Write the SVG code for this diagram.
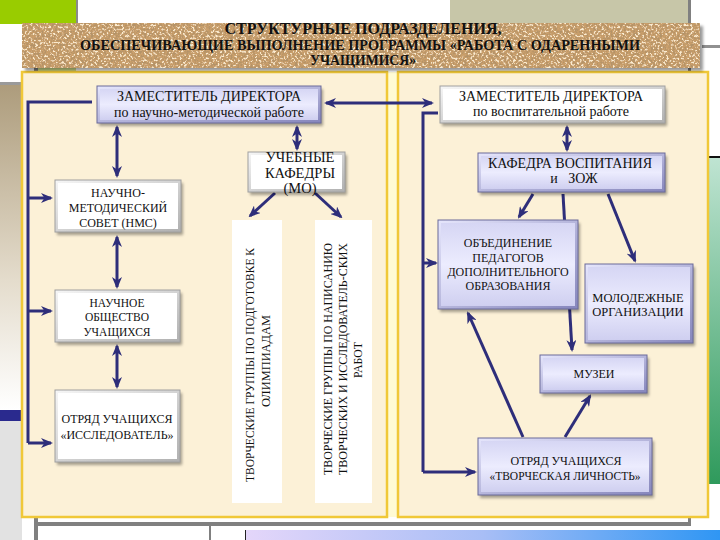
<svg xmlns="http://www.w3.org/2000/svg" width="720" height="540" viewBox="0 0 720 540">
<style>
text{fill:#111;text-anchor:middle}
.t1{font-size:17px;font-weight:bold}
.t2{font-size:14px;font-weight:bold}
.sh{fill:#000;opacity:.35;filter:url(#blur)}
.wo{fill:url(#gW);stroke:#a0a0a0;stroke-width:1}
.wi{fill:#fff}
.lo{fill:url(#gLo);stroke:#6a6a9a;stroke-width:1}
.li{fill:url(#gLi)}
.pl{fill:#fff}
.cn{fill:none;stroke:#2e2e7a;stroke-width:3}
.ar{marker-end:url(#ah)}
.da{marker-start:url(#ah);marker-end:url(#ah)}
.panel{fill:#fcf1d7;stroke:#f0c838;stroke-width:2.5}
</style>
<defs>
<linearGradient id="gW" x1="0" y1="0" x2="1" y2="1"><stop offset="0" stop-color="#f6f6f6"/><stop offset="1" stop-color="#b0b0b0"/></linearGradient>
<linearGradient id="gLo" x1="0" y1="0" x2="1" y2="1"><stop offset="0" stop-color="#e6e6fc"/><stop offset="1" stop-color="#8686bc"/></linearGradient>
<linearGradient id="gLi" x1="0" y1="0" x2="0" y2="1"><stop offset="0" stop-color="#d6d6f4"/><stop offset=".5" stop-color="#ececfe"/><stop offset="1" stop-color="#cfcff0"/></linearGradient>
<linearGradient id="gTan" x1="0" y1="0" x2="0" y2="1"><stop offset="0" stop-color="#ad9c7c"/><stop offset=".6" stop-color="#e4dccc"/><stop offset="1" stop-color="#ffffff"/></linearGradient>
<linearGradient id="gGreen" x1="0" y1="0" x2="0" y2="1"><stop offset="0" stop-color="#bfe4d2"/><stop offset="1" stop-color="#2f9a5c"/></linearGradient>
<linearGradient id="gBot" x1="0" y1="0" x2="1" y2="0"><stop offset="0" stop-color="#e4d6fa"/><stop offset=".5" stop-color="#a8bef6"/><stop offset="1" stop-color="#2f96f4"/></linearGradient>
<filter id="blur" x="-10%" y="-10%" width="120%" height="120%"><feGaussianBlur stdDeviation="1.5"/></filter>
<filter id="cork" x="0" y="0" width="1" height="1">
<feTurbulence type="fractalNoise" baseFrequency="0.45" numOctaves="3" seed="7" result="n"/>
<feColorMatrix in="n" type="matrix" values="0 0 0 0 0.45  0 0 0 0 0.29  0 0 0 0 0.14  6 0 0 0 -3.0" result="d"/>
<feColorMatrix in="n" type="matrix" values="0 0 0 0 0.96  0 0 0 0 0.84  0 0 0 0 0.64  -6 0 0 0 2.7" result="l"/>
<feMerge result="m"><feMergeNode in="d"/><feMergeNode in="l"/></feMerge>
<feComposite in="m" in2="SourceGraphic" operator="atop"/>
</filter>
<marker id="ah" viewBox="0 0 12 10" refX="10" refY="5" markerWidth="12" markerHeight="10" markerUnits="userSpaceOnUse" orient="auto-start-reverse"><path d="M0,0 L12,5 L0,10 L3.5,5 z" fill="#2e2e7a"/></marker>
</defs>

<!-- background decoration -->
<rect width="720" height="540" fill="#fff"/>
<rect x="0" y="0" width="76" height="24" fill="#99cc00"/>
<rect x="76" y="0" width="2" height="24" fill="#8a8a8a"/>
<rect x="450" y="0" width="238" height="24" fill="#c7c6a8"/>
<rect x="688" y="0" width="3" height="525" fill="#808080"/>
<rect x="38" y="66" width="38" height="8" fill="#d4e48e"/>
<rect x="34" y="66" width="4" height="474" fill="#808080"/>
<rect x="34" y="522" width="657" height="4" fill="#808080"/>
<rect x="209" y="526" width="2" height="14" fill="#808080"/>
<rect x="246" y="530" width="474" height="10" fill="url(#gBot)"/>
<rect x="245" y="530" width="1" height="10" fill="#222"/>
<rect x="702" y="45" width="18" height="3" fill="#909090"/>
<rect x="708" y="156" width="12" height="2" fill="#111"/>
<rect x="708" y="158" width="12" height="326" fill="url(#gGreen)"/>
<rect x="0" y="82" width="22" height="3" fill="#9a9a9a"/>
<rect x="0" y="85" width="22" height="325" fill="url(#gTan)"/>
<rect x="0" y="410" width="22" height="11" fill="#2a2a8e"/>
<rect x="0" y="421" width="22" height="119" fill="#e2e2e2"/>

<!-- panels -->
<rect x="386" y="72" width="14" height="445" fill="#fffbd4"/>
<rect class="panel" x="22" y="72" width="365" height="445"/>
<rect class="panel" x="398" y="72" width="310" height="445"/>

<g font-family="'Liberation Serif', 'DejaVu Serif', 'Times New Roman', serif">
<!-- title banner -->
<g id="title">
<rect x="25" y="26" width="678" height="45" fill="#000" opacity=".4" filter="url(#blur)"/>
<rect x="22" y="23" width="678" height="45" fill="#c99e6a" filter="url(#cork)"/>
<text class="t1" x="363" y="34" textLength="277" lengthAdjust="spacingAndGlyphs">СТРУКТУРНЫЕ ПОДРАЗДЕЛЕНИЯ,</text>
<text class="t2" x="360" y="50" textLength="560" lengthAdjust="spacingAndGlyphs">ОБЕСПЕЧИВАЮЩИЕ ВЫПОЛНЕНИЕ ПРОГРАММЫ «РАБОТА С ОДАРЕННЫМИ</text>
<text class="t2" x="363" y="65" textLength="106" lengthAdjust="spacingAndGlyphs">УЧАЩИМИСЯ»</text>
</g>

<!-- connectors -->
<g id="connectors">
<path class="cn da" d="M326 103 L432 103"/>
<path class="cn" d="M92 102 L28 102 L28 443"/>
<path class="cn ar" d="M28 198 L51 198"/>
<path class="cn ar" d="M28 311 L51 311"/>
<path class="cn ar" d="M28 443 L51 443"/>
<path class="cn" d="M438 113 L423 113 L423 472"/>
<path class="cn ar" d="M423 263 L436 263"/>
<path class="cn ar" d="M423 472 L475 472"/>
<path class="cn da" d="M117 127 L117 176"/>
<path class="cn da" d="M297 127 L297 149"/>
<path class="cn da" d="M117 237 L117 287"/>
<path class="cn da" d="M117 346 L117 387"/>
<path class="cn ar" d="M275 193 L250 216"/>
<path class="cn ar" d="M315 193 L341 217"/>
<path class="cn da" d="M567 127 L567 150"/>
<path class="cn ar" d="M533 194 L519 217"/>
<path class="cn ar" d="M563 194 L572 350"/>
<path class="cn ar" d="M608 194 L635 261"/>
<path class="cn ar" d="M523 437 L468 313"/>
<path class="cn ar" d="M565 437 L590 396"/>
</g>

<!-- nodes -->
<g id="zamNM">
<rect class="sh" x="99" y="89" width="224" height="37"/>
<rect class="lo" x="97" y="86" width="224" height="37"/>
<rect class="li" x="100" y="89" width="218" height="31"/>
<text x="209" y="101" font-size="14">ЗАМЕСТИТЕЛЬ ДИРЕКТОРА</text>
<text x="209" y="117" font-size="14">по научно-методической работе</text>
</g>
<g id="zamVR">
<rect class="sh" x="442" y="89" width="225" height="37"/>
<rect class="wo" x="440" y="86" width="225" height="37"/>
<rect class="wi" x="443" y="89" width="219" height="31"/>
<text x="551" y="101" font-size="14">ЗАМЕСТИТЕЛЬ ДИРЕКТОРА</text>
<text x="551" y="116" font-size="14">по воспитательной работе</text>
</g>
<g id="mo">
<rect class="sh" x="250" y="155" width="97" height="40"/>
<rect class="wo" x="248" y="152" width="97" height="40"/>
<rect class="wi" x="251" y="155" width="91" height="34"/>
<text x="300" y="162" font-size="14.5">УЧЕБНЫЕ</text>
<text x="300" y="178" font-size="14.5">КАФЕДРЫ</text>
<text x="300" y="193" font-size="14.5">(МО)</text>
</g>
<g id="nms">
<rect class="sh" x="57" y="183" width="126" height="52"/>
<rect class="wo" x="55" y="180" width="126" height="52"/>
<rect class="wi" x="58" y="183" width="120" height="46"/>
<text x="118" y="197" font-size="12">НАУЧНО-</text>
<text x="118" y="212" font-size="12">МЕТОДИЧЕСКИЙ</text>
<text x="118" y="227" font-size="12">СОВЕТ (НМС)</text>
</g>
<g id="nou">
<rect class="sh" x="57" y="293" width="125" height="52"/>
<rect class="wo" x="55" y="290" width="125" height="52"/>
<rect class="wi" x="58" y="293" width="119" height="46"/>
<text x="117" y="307" font-size="11.5">НАУЧНОЕ</text>
<text x="117" y="321" font-size="11.5">ОБЩЕСТВО</text>
<text x="117" y="336" font-size="11.5">УЧАЩИХСЯ</text>
</g>
<g id="otrI">
<rect class="sh" x="57" y="393" width="125" height="72"/>
<rect class="wo" x="55" y="390" width="125" height="72"/>
<rect class="wi" x="58" y="393" width="119" height="66"/>
<text x="117" y="423" font-size="12">ОТРЯД УЧАЩИХСЯ</text>
<text x="117" y="439" font-size="12">«ИССЛЕДОВАТЕЛЬ»</text>
</g>
<g id="vt1">
<rect class="pl" x="232" y="220" width="50" height="283"/>
<text transform="translate(254,365) rotate(-90)" font-size="11.5" textLength="234" lengthAdjust="spacingAndGlyphs">ТВОРЧЕСКИЕ ГРУППЫ ПО ПОДГОТОВКЕ К</text>
<text transform="translate(270,361) rotate(-90)" font-size="12" textLength="92" lengthAdjust="spacingAndGlyphs">ОЛИМПИАДАМ</text>
</g>
<g id="vt2">
<rect class="pl" x="315" y="220" width="57" height="283"/>
<text transform="translate(332,359) rotate(-90)" font-size="12" textLength="232" lengthAdjust="spacingAndGlyphs">ТВОРЧЕСКИЕ ГРУППЫ ПО НАПИСАНИЮ</text>
<text transform="translate(347,359) rotate(-90)" font-size="12" textLength="232" lengthAdjust="spacingAndGlyphs">ТВОРЧЕСКИХ И ИССЛЕДОВАТЕЛЬ-СКИХ</text>
<text transform="translate(362,360) rotate(-90)" font-size="12" textLength="36" lengthAdjust="spacingAndGlyphs">РАБОТ</text>
</g>
<g id="kaf">
<rect class="sh" x="480" y="156" width="187" height="39"/>
<rect class="lo" x="478" y="153" width="187" height="39"/>
<rect class="li" x="481" y="156" width="181" height="33"/>
<text x="570" y="168" font-size="14">КАФЕДРА ВОСПИТАНИЯ</text>
<text x="574" y="183" font-size="14" xml:space="preserve">и   ЗОЖ</text>
</g>
<g id="obj">
<rect class="sh" x="440" y="223" width="140" height="89"/>
<rect class="lo" x="438" y="220" width="140" height="89"/>
<rect class="li" x="441" y="223" width="134" height="83"/>
<text x="508" y="247" font-size="12">ОБЪЕДИНЕНИЕ</text>
<text x="508" y="262" font-size="12">ПЕДАГОГОВ</text>
<text x="508" y="276" font-size="12">ДОПОЛНИТЕЛЬНОГО</text>
<text x="508" y="290" font-size="12">ОБРАЗОВАНИЯ</text>
</g>
<g id="mol">
<rect class="sh" x="587" y="267" width="108" height="79"/>
<rect class="lo" x="585" y="264" width="108" height="79"/>
<rect class="li" x="588" y="267" width="102" height="73"/>
<text x="638" y="302" font-size="12.5">МОЛОДЕЖНЫЕ</text>
<text x="638" y="316" font-size="12.5">ОРГАНИЗАЦИИ</text>
</g>
<g id="muz">
<rect class="sh" x="542" y="358" width="107" height="38"/>
<rect class="lo" x="540" y="355" width="107" height="38"/>
<rect class="li" x="543" y="358" width="101" height="32"/>
<text x="594" y="378" font-size="12">МУЗЕИ</text>
</g>
<g id="otrT">
<rect class="sh" x="480" y="441" width="174" height="57"/>
<rect class="lo" x="478" y="438" width="174" height="57"/>
<rect class="li" x="481" y="441" width="168" height="51"/>
<text x="566" y="465" font-size="12">ОТРЯД УЧАЩИХСЯ</text>
<text x="565" y="480" font-size="11.5">«ТВОРЧЕСКАЯ ЛИЧНОСТЬ»</text>
</g>
</g>
</svg>
